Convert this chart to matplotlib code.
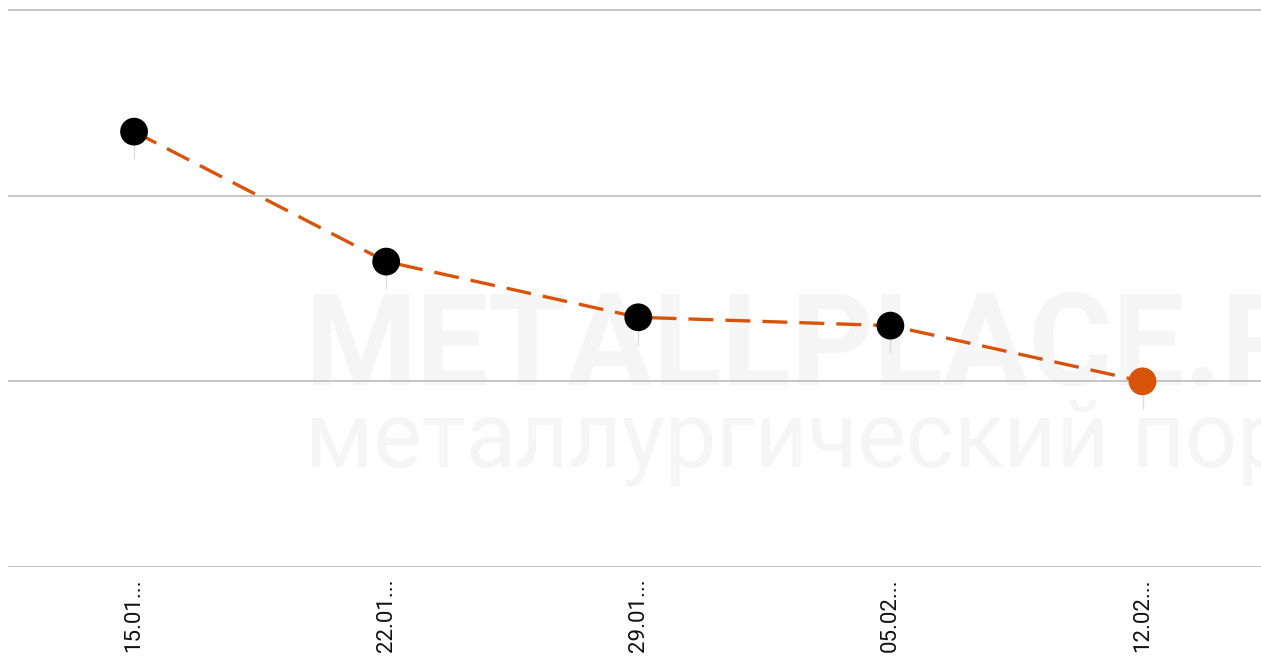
import numpy as np
import matplotlib.pyplot as plt

# данные (значения оценены по картинке, шкала без подписей)
dates = ['15.01...', '22.01...', '29.01...', '05.02...', '12.02...']
values = [23.45, 16.45, 13.45, 13.0, 10.0]
grid_ticks = [0, 10, 20, 30]

orange = '#d9540b'

fig = plt.figure(figsize=(12.61, 6.57), dpi=100)
ax = fig.add_axes([8 / 1261, 90 / 657, 1 - 8 / 1261, 567 / 657])

# watermark (под точками)
ax.text(305 / 1261, 1 - 385 / 657, 'METALLPLACE.RU', fontsize=92, fontweight='bold',
        family='Roboto', color='#f5f5f5', zorder=0.5, transform=fig.transFigure)
ax.text(305 / 1261, 1 - 467 / 657, 'металлургический портал', fontsize=66,
        family='Roboto', color='#f5f5f5', zorder=0.5, transform=fig.transFigure)

x = np.arange(len(dates))
ax.errorbar(x, values, yerr=[[1.5] * len(values), [0] * len(values)], fmt='none',
            ecolor='#dddddd', elinewidth=1, zorder=2)
ax.plot(x, values, color=orange, lw=2.4, dashes=(7.5, 3.6), zorder=3)
colors = ['black'] * (len(values) - 1) + [orange]
ax.scatter(x, values, s=400, c=colors, linewidths=0, zorder=4)

ax.set_xlim(-0.5, 4.47)
ax.set_ylim(0, 30.54)
ax.set_yticks(grid_ticks)
ax.set_yticklabels([])
ax.grid(axis='y', color='#c0c0c0', lw=1.3, zorder=1)
ax.set_axisbelow(True)
ax.tick_params(left=False, bottom=False, length=0)
ax.set_xticks(x)
ax.set_xticklabels(dates, rotation=90, fontsize=16, family='Roboto', color='#111111',
                   va='top', ha='center')
ax.tick_params(axis='x', pad=8)
for s in ax.spines.values():
    s.set_visible(False)
ax.patch.set_alpha(0)

fig.savefig('out.png', dpi=100)
